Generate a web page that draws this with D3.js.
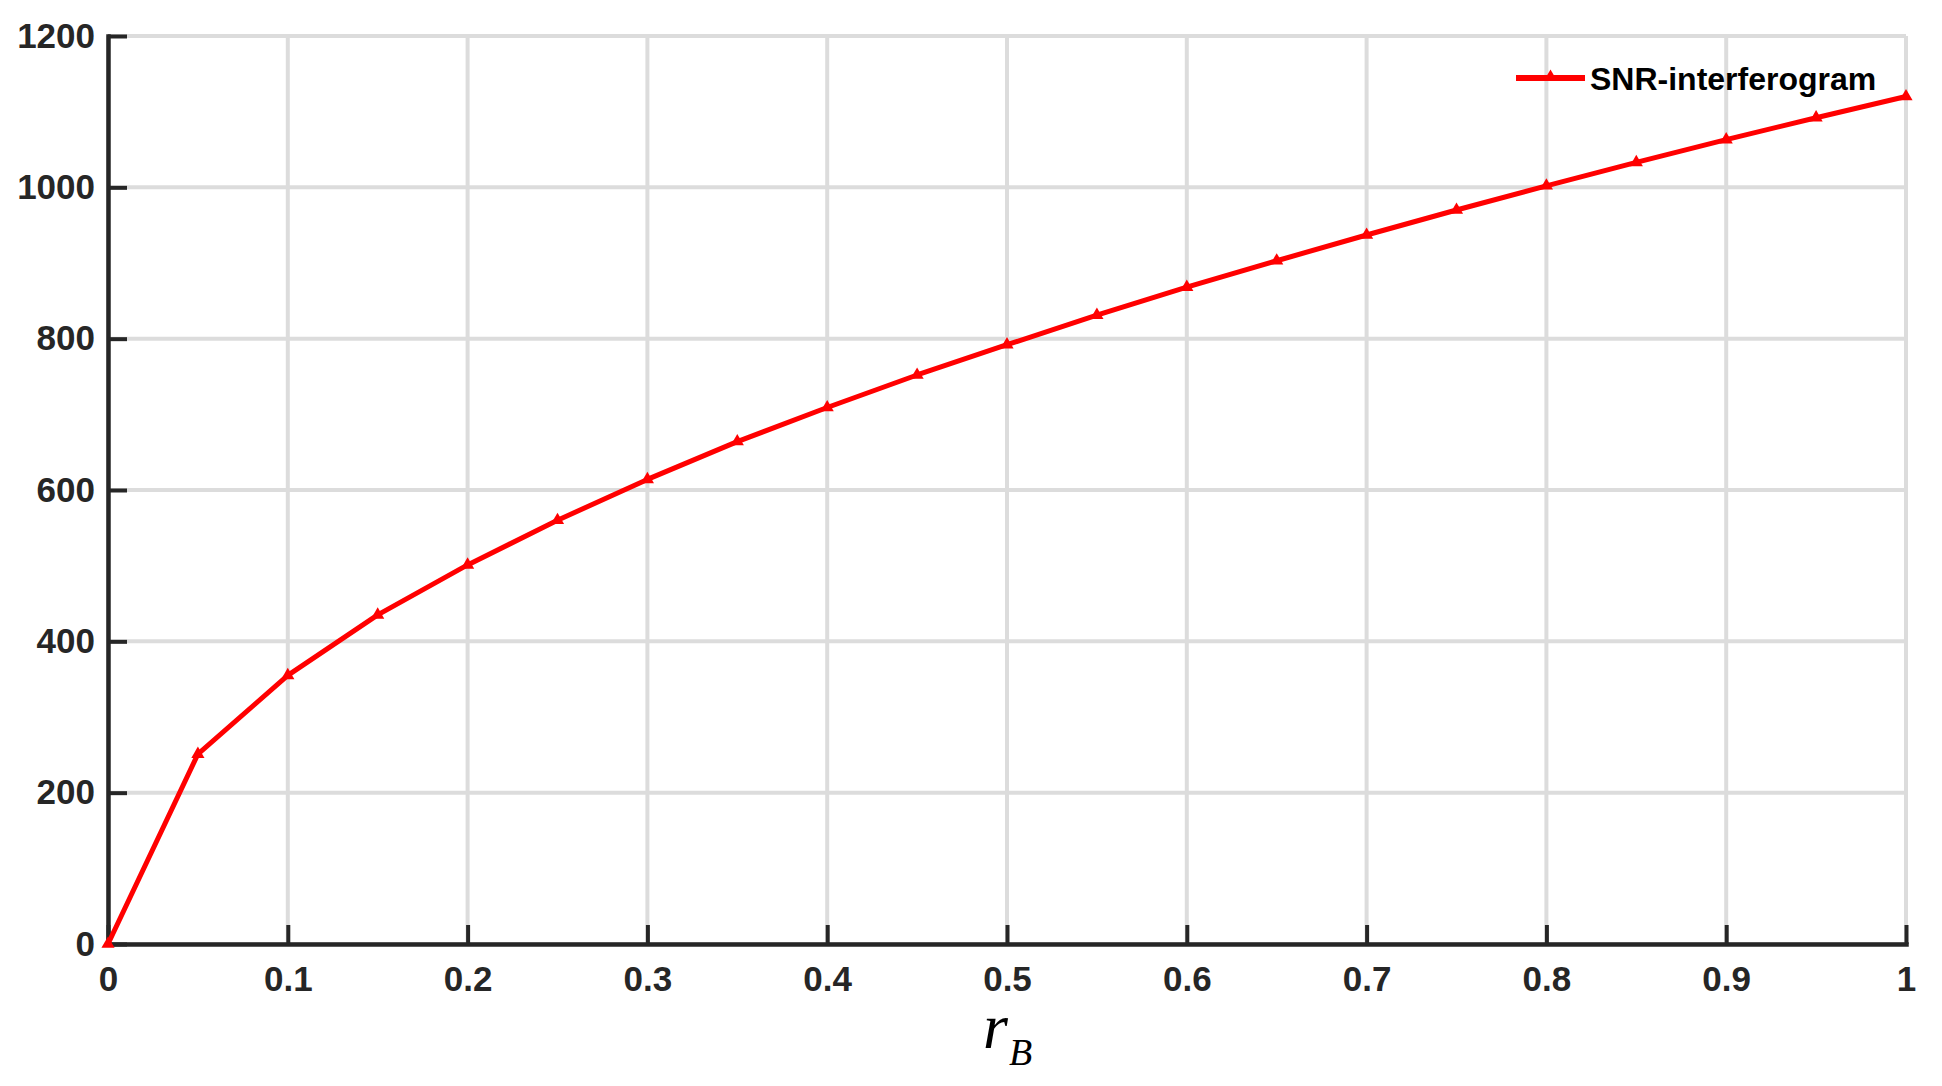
<!DOCTYPE html>
<html>
<head>
<meta charset="utf-8">
<script src="https://cdn.jsdelivr.net/npm/d3@7"></script>
<style>
  body { margin: 0; background: #fff; }
  svg { display: block; }
</style>
</head>
<body>
<div id="chart"></div>
<script>
// values
var rB = [0, 0.05, 0.1, 0.15, 0.2, 0.25, 0.3, 0.35, 0.4, 0.45, 0.5,
          0.55, 0.6, 0.65, 0.7, 0.75, 0.8, 0.85, 0.9, 0.95, 1];
var snr = [0, 251, 355, 435, 501, 560, 614, 664, 709, 752, 792,
           831, 868, 903, 937, 970, 1002, 1033, 1063, 1092, 1120];
var xTicks = [0, 0.1, 0.2, 0.3, 0.4, 0.5, 0.6, 0.7, 0.8, 0.9, 1];
var yTicks = [0, 200, 400, 600, 800, 1000, 1200];
var seriesName = "SNR-interferogram";

var W = 1942, H = 1086;
var margin = {left: 108, right: 36, top: 36, bottom: 142};
var w = W - margin.left - margin.right,
    h = H - margin.top - margin.bottom;

var svg = d3.select("#chart").append("svg")
  .attr("width", W).attr("height", H);
var g = svg.append("g")
  .attr("transform", "translate(" + margin.left + "," + margin.top + ")");

var x = d3.scaleLinear().domain([0, 1]).range([0, w]);
var y = d3.scaleLinear().domain([0, 1200]).range([h, 0]);

// grid
g.append("g").selectAll("line").data(xTicks).enter().append("line")
  .attr("x1", d => x(d)).attr("x2", d => x(d))
  .attr("y1", 0).attr("y2", h)
  .attr("stroke", "#dcdcdc").attr("stroke-width", 4);
g.append("g").selectAll("line").data(yTicks).enter().append("line")
  .attr("y1", d => y(d)).attr("y2", d => y(d))
  .attr("x1", 0).attr("x2", w)
  .attr("stroke", "#dcdcdc").attr("stroke-width", 4);

var fmt = d => d === 0 ? "0" : d === 1 ? "1" : d3.format(".1f")(d);

var xAxis = g.append("g")
  .attr("transform", "translate(0," + h + ")")
  .call(d3.axisBottom(x).tickValues(xTicks).tickFormat(fmt)
    .tickSizeInner(-19).tickSizeOuter(0).tickPadding(22));
var yAxis = g.append("g")
  .call(d3.axisLeft(y).tickValues(yTicks).tickFormat(d3.format("d"))
    .tickSizeInner(-19).tickSizeOuter(0).tickPadding(13));

[xAxis, yAxis].forEach(function(a) {
  a.select(".domain").attr("stroke", "#262626").attr("stroke-width", 4.5)
    .attr("stroke-linecap", "square");
  a.selectAll(".tick line").attr("stroke", "#262626").attr("stroke-width", 4);
  a.selectAll(".tick text")
    .attr("fill", "#262626")
    .style("font-family", "'Liberation Sans', Arial, sans-serif")
    .style("font-weight", "bold")
    .style("font-size", "35px");
});

// series
var line = d3.line().x((d, i) => x(rB[i])).y(d => y(d));
g.append("path").datum(snr)
  .attr("d", line)
  .attr("fill", "none")
  .attr("stroke", "#ff0000")
  .attr("stroke-width", 5)
  .attr("stroke-linejoin", "round");

var tri = d3.symbol().type(d3.symbolTriangle).size(75);
g.selectAll("path.mk").data(snr).enter().append("path")
  .attr("class", "mk")
  .attr("d", tri)
  .attr("transform", (d, i) => "translate(" + x(rB[i]) + "," + y(d) + ")")
  .attr("fill", "#ff0000");

// legend
var leg = svg.append("g").attr("transform", "translate(1516,78)");
leg.append("line").attr("x1", 0).attr("x2", 69).attr("y1", 0).attr("y2", 0)
  .attr("stroke", "#ff0000").attr("stroke-width", 6);
leg.append("path").attr("d", tri).attr("transform", "translate(34.5,-1)")
  .attr("fill", "#ff0000");
leg.append("text").attr("x", 74).attr("y", 12)
  .style("font-family", "'Liberation Sans', Arial, sans-serif")
  .style("font-weight", "bold")
  .style("font-size", "32px")
  .attr("fill", "#000")
  .text(seriesName);

// x label r_B
var serif = "'Liberation Serif', 'Times New Roman', serif";
svg.append("text")
  .attr("x", 983).attr("y", 1048)
  .style("font-family", serif).style("font-style", "italic")
  .style("font-size", "64px")
  .attr("fill", "#000")
  .text("r");
svg.append("text")
  .attr("x", 1009).attr("y", 1065)
  .style("font-family", serif).style("font-style", "italic")
  .style("font-size", "38px")
  .attr("fill", "#000")
  .text("B");
</script>
</body>
</html>
